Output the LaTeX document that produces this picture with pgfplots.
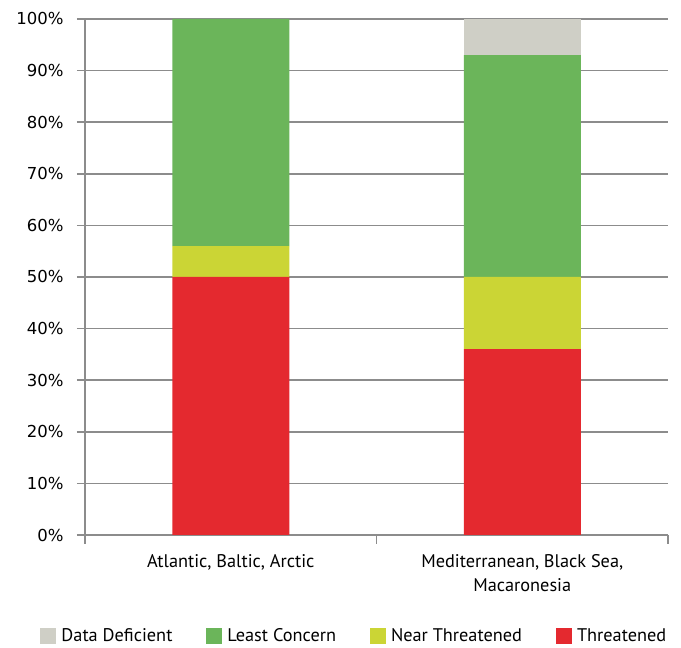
\documentclass[border=0pt]{standalone}
\usepackage{fontspec}
\setmainfont{PT Sans}
\newfontfamily\tickfont{DejaVu Sans}
\usepackage{pgfplots}
\pgfplotsset{compat=1.18}
\definecolor{DD}{HTML}{CFCFC6}
\definecolor{LC}{HTML}{6BB55A}
\definecolor{NT}{HTML}{CBD535}
\definecolor{TH}{HTML}{E4292F}
\definecolor{axisgray}{HTML}{8C8C8C}

\begin{document}
\begin{tikzpicture}
\begin{axis}[
  ybar stacked,
  scale only axis,
  width=583pt, height=516pt,
  xmin=-0.5, xmax=1.5,
  ymin=0, ymax=100,
  clip=false,
  bar width=117pt,
  axis x line*=bottom, axis y line*=left,
  axis line style={-, axisgray, line width=1.6pt},
  ymajorgrids=true,
  grid style={axisgray, line width=1.6pt},
  ytick={0,10,...,100},
  /pgf/number format/assume math mode=true,
  yticklabel={\pgfmathprintnumber{\tick}\%},
  yticklabel style={font=\tickfont\fontsize{16.5}{19}\selectfont, xshift=-10pt},
  ytick style={axisgray, line width=1.6pt},
  tick align=outside,
  major tick length=8pt,
  xtick={0,1},
  xtick style={draw=none},
  xticklabels={{Atlantic, Baltic, Arctic},{Mediterranean, Black Sea,\\Macaronesia}},
  xticklabel style={align=center, font=\fontsize{18.3}{24}\selectfont, yshift=-8pt},
  extra x ticks={-0.5,0.5,1.5},
  extra x tick labels={},
  extra x tick style={xtick style={draw=axisgray, line width=1.6pt}, major tick length=9pt},
  legend style={at={(0.462,-0.196)}, anchor=center, draw=none,
    font=\fontsize{18.3}{20}\selectfont, legend columns=4,
    /tikz/every odd column/.append style={column sep=3pt},
    /tikz/every even column/.append style={column sep=32pt}},
  legend image code/.code={\fill[#1] (0pt,-8pt) rectangle (16pt,8pt);},
  reverse legend,
]
\addplot[fill=TH, draw=none] coordinates {(0,50) (1,36)};
\addplot[fill=NT, draw=none] coordinates {(0,6) (1,14)};
\addplot[fill=LC, draw=none] coordinates {(0,44) (1,43)};
\addplot[fill=DD, draw=none] coordinates {(0,0) (1,7)};
\legend{Threatened, Near Threatened, Least Concern, Data Deficient}
\path (rel axis cs:-0.1458,1.0368) (rel axis cs:1.0223,-0.2151);
\end{axis}
\end{tikzpicture}
\end{document}
